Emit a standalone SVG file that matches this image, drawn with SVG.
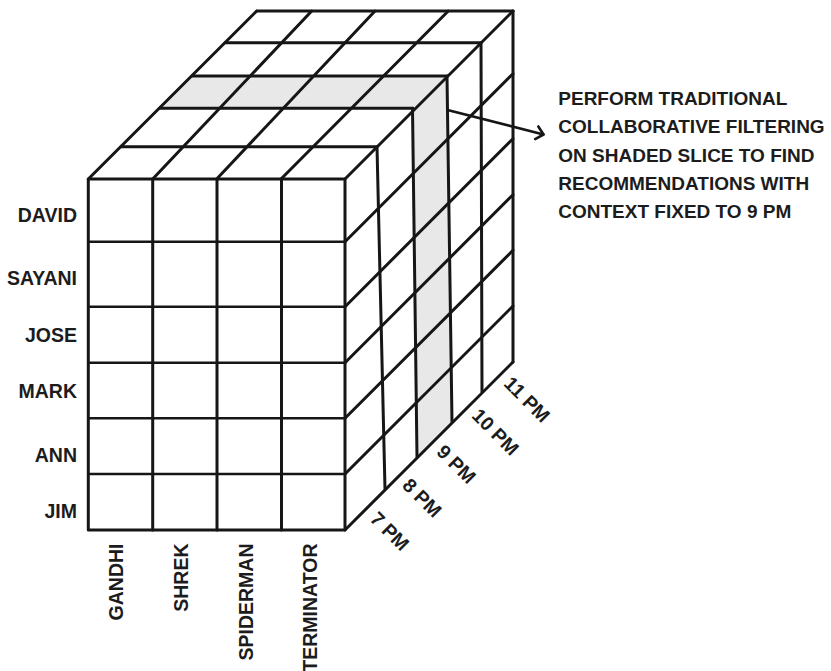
<svg xmlns="http://www.w3.org/2000/svg" width="831" height="671" viewBox="0 0 831 671">
  <style>
    .ln { stroke: #161616; stroke-width: 3; fill: none; stroke-linecap: round; stroke-linejoin: round; }
    .thin { stroke: #161616; stroke-width: 2.6; fill: none; stroke-linecap: round; }
    .shade { fill: #e8e8e8; stroke: none; }
    .lbl { font-family: "Liberation Sans", Arial, sans-serif; font-weight: bold; font-size: 19.5px; fill: #1c1c1c; }
    .note { font-family: "Liberation Sans", Arial, sans-serif; font-weight: bold; font-size: 19px; fill: #1c1c1c; }
  </style>
  <defs>
    <marker id="arrow" viewBox="-10 -8 12 16" markerWidth="12" markerHeight="16" refX="0" refY="0" orient="auto" markerUnits="userSpaceOnUse">
      <path d="M-7,-6.5 L0,0 L-7,6.5" fill="none" stroke="#161616" stroke-width="2.6" stroke-linecap="round" stroke-linejoin="round"/>
    </marker>
  </defs>

  <rect width="831" height="671" fill="#ffffff"/>

  <g id="shaded-slice">
    <polygon class="shade" points="159,108.3 192,76 447,76 413,108.3"/>
    <polygon class="shade" points="413,108.3 447,76 452,422 417,457"/>
  </g>

  <g id="cube-top">
    <line class="ln" x1="88.3" y1="179" x2="256.7" y2="11"/>
    <line class="ln" x1="152.7" y1="179" x2="311.7" y2="11"/>
    <line class="ln" x1="216.7" y1="179" x2="375" y2="11"/>
    <line class="ln" x1="281" y1="179" x2="448.3" y2="11"/>
    <line class="ln" x1="256.7" y1="11" x2="513" y2="11"/>
    <line class="ln" x1="225" y1="42.7" x2="481" y2="42.7"/>
    <line class="ln" x1="192" y1="76" x2="447" y2="76"/>
    <line class="ln" x1="159.5" y1="108.3" x2="413" y2="108.3"/>
    <line class="ln" x1="121" y1="146.7" x2="377" y2="146.7"/>
  </g>

  <g id="cube-side">
    <line class="ln" x1="345" y1="179" x2="513" y2="11"/>
    <line class="ln" x1="345" y1="241.7" x2="513" y2="73.7"/>
    <line class="ln" x1="345" y1="306.7" x2="513" y2="138.7"/>
    <line class="ln" x1="345" y1="362.7" x2="513" y2="194.7"/>
    <line class="ln" x1="345" y1="418.3" x2="513" y2="250.3"/>
    <line class="ln" x1="345" y1="474" x2="513" y2="306"/>
    <line class="ln" x1="345" y1="530" x2="513" y2="362"/>
    <line class="ln" x1="377" y1="146.7" x2="385" y2="489"/>
    <line class="ln" x1="412.5" y1="108.3" x2="417" y2="457"/>
    <line class="ln" x1="447" y1="76" x2="452" y2="422"/>
    <line class="ln" x1="481" y1="42.7" x2="482" y2="392"/>
    <line class="ln" x1="513" y1="11" x2="513" y2="362"/>
  </g>

  <g id="cube-front">
    <line class="thin" x1="88.3" y1="241.7" x2="345" y2="241.7"/>
    <line class="thin" x1="88.3" y1="306.7" x2="345" y2="306.7"/>
    <line class="thin" x1="88.3" y1="362.7" x2="345" y2="362.7"/>
    <line class="thin" x1="88.3" y1="418.3" x2="345" y2="418.3"/>
    <line class="thin" x1="88.3" y1="474" x2="345" y2="474"/>
    <line class="ln" x1="152.7" y1="179" x2="152.7" y2="530"/>
    <line class="ln" x1="217" y1="179" x2="217" y2="530"/>
    <line class="ln" x1="281.5" y1="179" x2="281.5" y2="530"/>
    <rect class="ln" x="88.3" y="179" width="256.7" height="351"/>
  </g>

  <g id="user-labels" class="lbl" text-anchor="end">
    <text x="77" y="221.7">DAVID</text>
    <text x="77" y="285">SAYANI</text>
    <text x="77" y="341.7">JOSE</text>
    <text x="77" y="397.7">MARK</text>
    <text x="77" y="461.7">ANN</text>
    <text x="77" y="517.7">JIM</text>
  </g>

  <g id="movie-labels" class="lbl" text-anchor="end">
    <text transform="translate(123.3,543.5) rotate(-90)">GANDHI</text>
    <text transform="translate(188.3,543.5) rotate(-90)">SHREK</text>
    <text transform="translate(253.3,543.5) rotate(-90)">SPIDERMAN</text>
    <text transform="translate(317.3,543.5) rotate(-90)">TERMINATOR</text>
  </g>

  <g id="time-labels" class="lbl" text-anchor="middle">
    <text transform="translate(385,536) rotate(45)">7 PM</text>
    <text transform="translate(417.3,502.7) rotate(45)">8 PM</text>
    <text transform="translate(451.7,469) rotate(45)">9 PM</text>
    <text transform="translate(490.7,436.7) rotate(45)">10 PM</text>
    <text transform="translate(522.3,404.3) rotate(45)">11 PM</text>
  </g>

  <g id="note" class="note">
    <text x="558.3" y="105">PERFORM TRADITIONAL</text>
    <text x="558.3" y="133.3">COLLABORATIVE FILTERING</text>
    <text x="558.3" y="161.7">ON SHADED SLICE TO FIND</text>
    <text x="558.3" y="190">RECOMMENDATIONS WITH</text>
    <text x="558.3" y="218.3">CONTEXT FIXED TO 9 PM</text>
  </g>

  <g id="connectors">
    <line x1="447.5" y1="110" x2="543.5" y2="134.5" stroke="#161616" stroke-width="2.6" stroke-linecap="round" marker-end="url(#arrow)"/>
  </g>
</svg>
